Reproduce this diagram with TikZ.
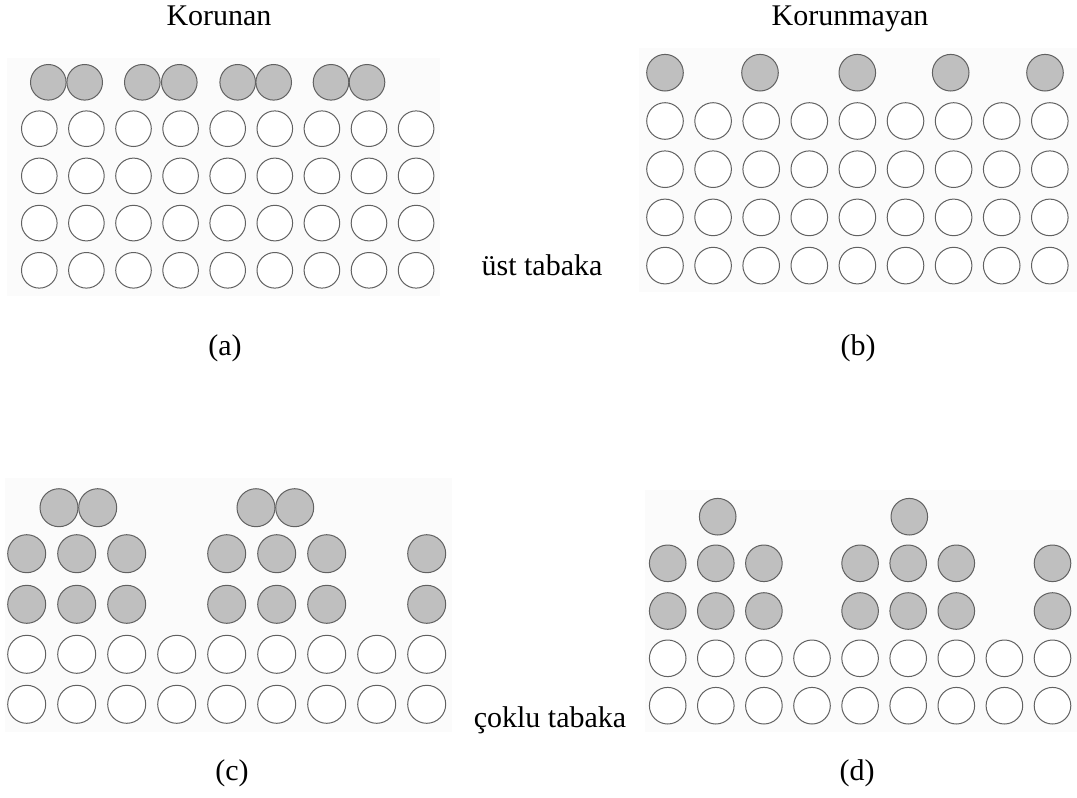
\documentclass[tikz,border=0pt]{standalone}
\usepackage{fontspec}
\setmainfont{Liberation Serif}
\begin{document}
\begin{tikzpicture}[x=1pt,y=-1pt,
  ball/.style={draw=black!62,line width=1pt,fill=white},
  gball/.style={draw=black!62,line width=1pt,fill=black!25},
  bg/.style={fill=black!1.5,draw=none},
  lbl/.style={font=\fontsize{30}{36}\selectfont,inner sep=0pt,anchor=base}]
\useasboundingbox[fill=white] (0,0) rectangle (1077,798);
% backgrounds
\fill[bg] (7,58) rectangle (440,296);
\fill[bg] (639,48) rectangle (1077,292);
\fill[bg] (5,478) rectangle (452,732);
\fill[bg] (645,490) rectangle (1077,732);
% panel (a)
\foreach \c in {0,...,8}{\foreach \r in {0,...,3}{
  \draw[ball] (39.3+\c*47.1,128.7+\r*47.2) circle (17.8);}}
\foreach \x in {48.3,84.7,142.3,179.3,237.7,273.7,331,367}{
  \draw[gball] (\x,82.3) circle (17.8);}
% panel (b)
\foreach \c in {0,...,8}{\foreach \r in {0,...,3}{
  \draw[ball] (665+\c*48.1,121+\r*48.2) circle (18.3);}}
\foreach \x in {665,760,857.3,950.7,1045}{
  \draw[gball] (\x,72.7) circle (18.3);}
% panel (c)
\foreach \c in {0,...,8}{\foreach \y in {654.3,704.3}{
  \draw[ball] (26.7+\c*50,\y) circle (19);}}
\foreach \c in {0,1,2,4,5,6,8}{\foreach \y in {553.7,604.3}{
  \draw[gball] (26.7+\c*50,\y) circle (19);}}
\foreach \x in {59,97.7,256,294.7}{
  \draw[gball] (\x,507.7) circle (19);}
% panel (d)
\foreach \c in {0,...,8}{\foreach \y in {658.3,705.7}{
  \draw[ball] (667.7+\c*48.1,\y) circle (18.3);}}
\foreach \c in {0,1,2,4,5,6,8}{\foreach \y in {563.3,611}{
  \draw[gball] (667.7+\c*48.1,\y) circle (18.3);}}
\foreach \x in {717.7,909.3}{
  \draw[gball] (\x,516.7) circle (18.3);}
% labels
\node[lbl] (korunan) at (219,25) {Korunan};
\node[lbl] (korunmayan) at (850,25) {Korunmayan};
\node[lbl] (ust) at (542,275) {üst tabaka};
\node[lbl] (cok) at (550,727) {çoklu tabaka};
\node[lbl] (la) at (225,355) {(a)};
\node[lbl] (lb) at (858,355) {(b)};
\node[lbl] (lc) at (232,780) {(c)};
\node[lbl] (ld) at (857,780) {(d)};
\end{tikzpicture}
\end{document}
